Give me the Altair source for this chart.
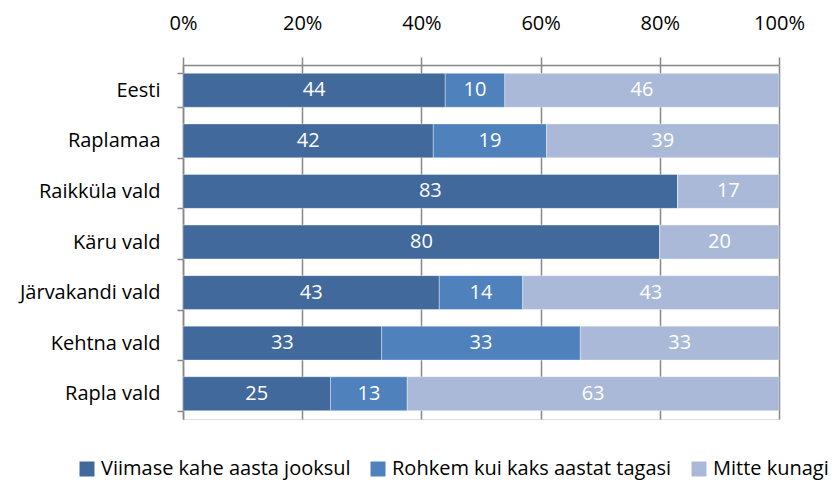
import altair as alt
import pandas as pd

categories = ["Eesti", "Raplamaa", "Raikküla vald", "Käru vald",
              "Järvakandi vald", "Kehtna vald", "Rapla vald"]
series = ["Viimase kahe aasta jooksul", "Rohkem kui kaks aastat tagasi", "Mitte kunagi"]
viimase = [44, 42, 83, 80, 43, 33, 25]
rohkem = [10, 19, 0, 0, 14, 33, 13]
mitte = [46, 39, 17, 20, 43, 33, 63]
colors = ["#41699B", "#4F81BD", "#AAB9D8"]

rows = []
for i, c in enumerate(categories):
    for j, (s, vals) in enumerate(zip(series, [viimase, rohkem, mitte])):
        rows.append({"cat": c, "series": s, "order": j, "value": vals[i]})
df = pd.DataFrame(rows)

FONT = "Open Sans"
FS = 20

base = alt.Chart(df).transform_stack(
    stack="value", groupby=["cat"], as_=["v0", "v1"],
    sort=[alt.SortField("order", order="ascending")], offset="normalize"
)

y = alt.Y("cat:N", sort=categories, title=None,
          scale=alt.Scale(paddingInner=0.33, paddingOuter=0.165),
          axis=alt.Axis(tickBand="extent", domainColor="#888888", tickColor="#888888",
                        domainWidth=1.5, tickWidth=1.5, tickSize=6, labelPadding=17,
                        labelFontSize=FS, labelFont=FONT, labelColor="#000000", grid=False,
                        labelLimit=300))

bars = base.mark_bar(stroke="white", strokeWidth=0.6, strokeOpacity=0.6).encode(
    x=alt.X("v0:Q", title=None,
            scale=alt.Scale(domain=[0, 1], nice=False),
            axis=alt.Axis(orient="top", format="%", values=[0, 0.2, 0.4, 0.6, 0.8, 1.0],
                          grid=True, gridColor="#888888", gridWidth=1.5, gridOpacity=1,
                          domainColor="#888888", domainWidth=1.5, tickColor="#888888",
                          tickWidth=1.5, tickSize=8, labelPadding=24, labelFontSize=FS,
                          labelFont=FONT, labelColor="#000000", labelFlush=False)),
    x2="v1:Q",
    y=y,
    color=alt.Color("series:N", sort=series,
                    scale=alt.Scale(domain=series, range=colors),
                    legend=alt.Legend(title=None, orient="none", direction="horizontal",
                                      legendX=-106, legendY=394, padding=0,
                                      symbolType="square",
                                      symbolSize=225, symbolStrokeWidth=0, labelFontSize=FS,
                                      labelFont=FONT, labelColor="#000000", columnPadding=17,
                                      labelOffset=4, symbolOpacity=1, labelLimit=400)),
    order=alt.Order("order:Q"),
)

labels = base.transform_filter("datum.value > 0").transform_calculate(
    mid="(datum.v0 + datum.v1) / 2"
).mark_text(color="white", fontSize=FS, font=FONT, baseline="middle", align="center").encode(
    x="mid:Q",
    y=alt.Y("cat:N", sort=categories),
    text="value:Q",
)

chart = (bars + labels).properties(
    width=596, height=354,
    padding={"left": 183, "top": 65, "right": 53, "bottom": 65},
    autosize=alt.AutoSizeParams(type="none"),
).configure_view(stroke=None).configure(background="white")

chart.save("out.html", embed_options={"renderer": "svg", "actions": False})
